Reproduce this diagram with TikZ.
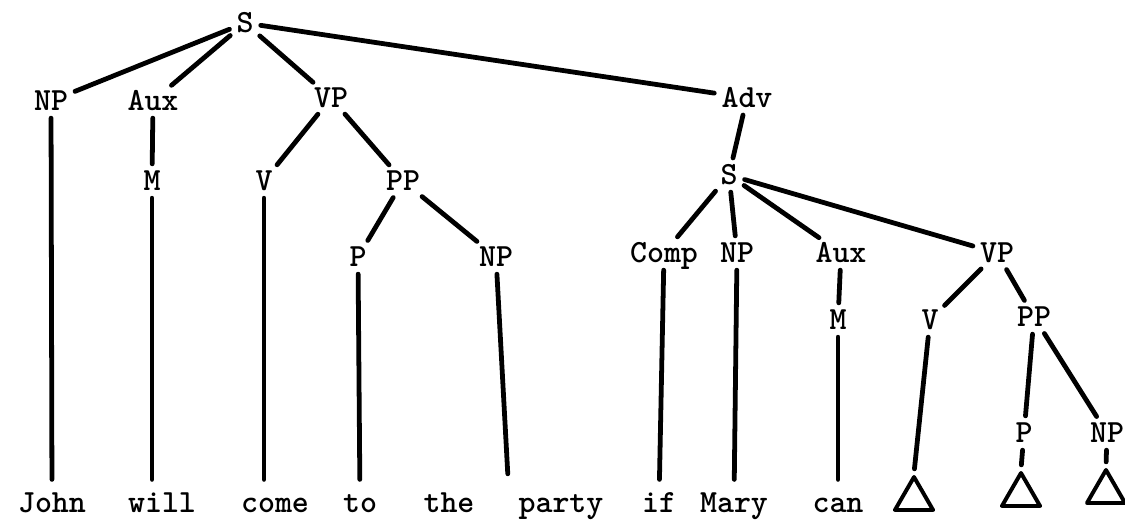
\documentclass[tikz,border=0pt]{standalone}
\usepackage{tikz}
\usetikzlibrary{shapes.geometric}
\tikzstyle{cat} = [font=\fontsize{23}{26}\selectfont\ttfamily\bfseries, inner sep=2pt,
    text height=14pt, text depth=0pt]
\tikzstyle{word} = [cat, anchor=base]
\tikzstyle{branch} = [line width=3.4pt, line cap=round, shorten <=3pt, shorten >=3pt]
\tikzstyle{leaf} = [branch, shorten >=7pt]
\tikzstyle{delta} = [regular polygon, regular polygon sides=3, draw, line width=2.8pt,
    minimum size=1.1cm, inner sep=0pt, line join=round]

\begin{document}
\begin{tikzpicture}[x=0.025cm, y=-0.025cm]
    \useasboundingbox (0,0) rectangle (1125,520);

    % main clause
    \node[cat] (S) at (245,23) {S};
    \node[cat] (NPa) at (51,101) {NP};
    \node[cat] (AUXa) at (153,101) {Aux};
    \node[cat] (VPa) at (331,98) {VP};
    \node[cat] (ADV) at (747,98) {Adv};
    \node[cat] (Ma) at (152,181) {M};
    \node[cat] (Va) at (264,181) {V};
    \node[cat] (PPa) at (403,181) {PP};
    \node[cat] (Pa) at (358,257) {P};
    \node[cat] (NPb) at (496,257) {NP};

    % embedded clause
    \node[cat] (Sb) at (729,175) {S};
    \node[cat] (COMP) at (664,253) {Comp};
    \node[cat] (NPc) at (737,253) {NP};
    \node[cat] (AUXb) at (841,253) {Aux};
    \node[cat] (VPb) at (997,253) {VP};
    \node[cat] (Mb) at (838,320) {M};
    \node[cat] (Vb) at (930,320) {V};
    \node[cat] (PPb) at (1034,317) {PP};
    \node[cat] (Pb) at (1024,433) {P};
    \node[cat] (NPd) at (1107,433) {NP};

    % terminals
    \node[word] (john) at (52,512) {John};
    \node[word] (will) at (162,512) {will};
    \node[word] (come) at (275,512) {come};
    \node[word] (to) at (360,512) {to};
    \node[word] (the) at (449,512) {the};
    \node[word] (party) at (561,512) {party};
    \node[word] (if) at (659,512) {if};
    \node[word] (mary) at (734,512) {Mary};
    \node[word] (can) at (838,512) {can};
    \coordinate (thparty) at (508,478);
    \node[delta] (ta) at (914,499) {};
    \node[delta] (tb) at (1021,495) {};
    \node[delta] (tc) at (1106,492) {};

    \draw[branch] (S) -- (NPa);
    \draw[branch] (S) -- (AUXa);
    \draw[branch] (S) -- (VPa);
    \draw[branch] (S) -- (ADV);
    \draw[branch] (AUXa) -- (Ma);
    \draw[branch] (VPa) -- (Va);
    \draw[branch] (VPa) -- (PPa);
    \draw[branch] (PPa) -- (Pa);
    \draw[branch] (PPa) -- (NPb);
    \draw[leaf] (NPa) -- (john);
    \draw[leaf] (Ma) -- (will.north -| Ma);
    \draw[leaf] (Va) -- (come.north -| Va);
    \draw[leaf] (Pa) -- (to);
    \draw[branch] (NPb) -- (thparty);

    \draw[branch] (ADV) -- (Sb);
    \draw[branch] (Sb) -- (COMP);
    \draw[branch] (Sb) -- (NPc);
    \draw[branch] (Sb) -- (AUXb);
    \draw[branch] (Sb) -- (VPb);
    \draw[branch] (AUXb) -- (Mb);
    \draw[branch] (VPb) -- (Vb);
    \draw[branch] (VPb) -- (PPb);
    \draw[branch] (PPb) -- (Pb);
    \draw[branch] (PPb) -- (NPd);
    \draw[leaf] (COMP) -- (if);
    \draw[leaf] (NPc) -- (mary);
    \draw[leaf] (Mb) -- (can);
    \draw[branch] (Vb) -- (ta.north);
    \draw[branch] (Pb) -- (tb.north);
    \draw[branch] (NPd) -- (tc.north);
\end{tikzpicture}
\end{document}
